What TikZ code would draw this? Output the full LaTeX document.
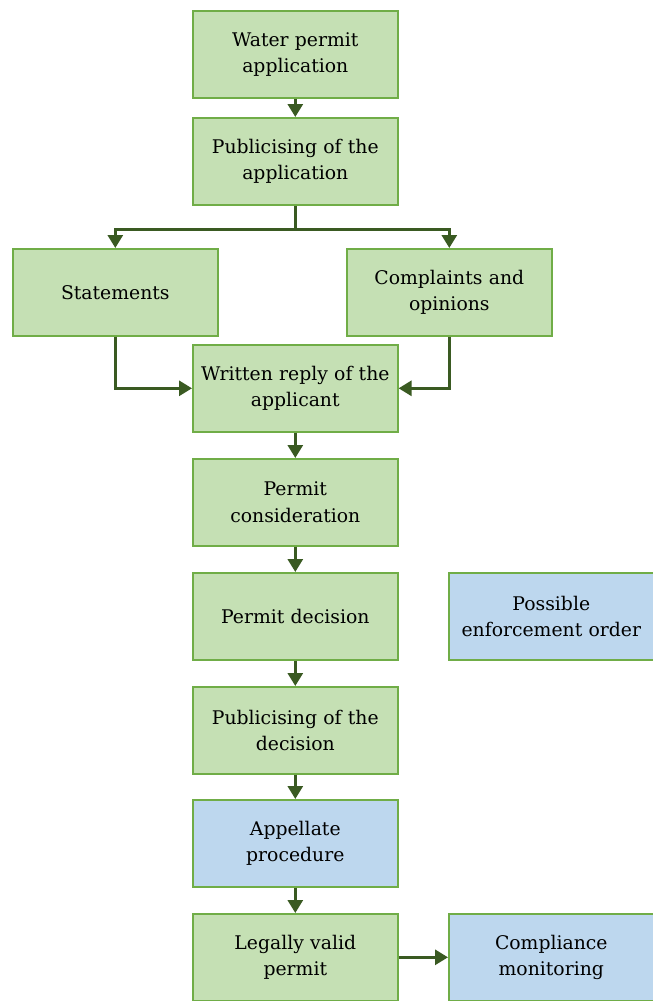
\documentclass[tikz,border=0pt]{standalone}
\usepackage{fontspec}
\setmainfont{DejaVu Serif}
\usetikzlibrary{arrows.meta,calc}
\definecolor{gfill}{HTML}{C5E0B4}
\definecolor{bfill}{HTML}{BDD7EE}
\definecolor{edge}{HTML}{70AD47}
\definecolor{arrowc}{HTML}{3A5A22}
\tikzset{
  box/.style={draw=edge, line width=1.6pt, minimum width=205pt, minimum height=87pt,
    inner sep=0pt, align=center, text width=203pt,
    font=\fontsize{18.8}{26.5}\selectfont, anchor=north west},
  gbox/.style={box, fill=gfill},
  bbox/.style={box, fill=bfill},
  wire/.style={draw=arrowc, line width=3pt},
  conn/.style={wire, -{Triangle[length=13pt,width=15pt]}},
}
\begin{document}
\begin{tikzpicture}[x=1pt,y=-1pt]
\useasboundingbox (0,0) rectangle (653,1001);
\node[gbox] (apply) at (192,10) {Water permit\\application};
\node[gbox] (pubapp) at (192,117) {Publicising of the\\application};
\node[gbox] (stmt) at (12,248) {Statements};
\node[gbox] (compl) at (346,248) {Complaints and\\opinions};
\node[gbox] (reply) at (192,344) {Written reply of the\\applicant};
\node[gbox] (consid) at (192,458) {Permit\\consideration};
\node[gbox] (decis) at (192,572) {Permit decision};
\node[bbox] (enforce) at (448,572) {Possible\\enforcement order};
\node[gbox] (pubdec) at (192,686) {Publicising of the\\decision};
\node[bbox] (appeal) at (192,799) {Appellate\\procedure};
\node[gbox] (valid) at (192,913) {Legally valid\\permit};
\node[bbox] (monitor) at (448,913) {Compliance\\monitoring};
\coordinate (split) at ($(pubapp.south)+(0,24)$);
\draw[conn] (apply) -- (pubapp);
\draw[wire] (pubapp.south) -- (split);
\draw[conn] (split) -| (stmt.north);
\draw[conn] (split) -| (compl.north);
\draw[conn] (stmt.south) |- (reply.west);
\draw[conn] (compl.south) |- (reply.east);
\draw[conn] (reply) -- (consid);
\draw[conn] (consid) -- (decis);
\draw[conn] (decis) -- (pubdec);
\draw[conn] (pubdec) -- (appeal);
\draw[conn] (appeal) -- (valid);
\draw[conn] (valid) -- (monitor);
\end{tikzpicture}
\end{document}
